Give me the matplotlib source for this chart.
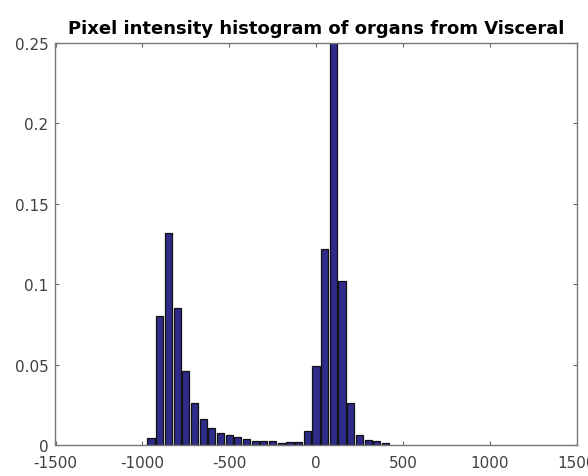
import matplotlib
matplotlib.use("Agg")
import matplotlib.pyplot as plt
import numpy as np

bin_centers = [-950, -900, -850, -800, -750, -700, -650, -600, -550, -500,
               -450, -400, -350, -300, -250, -200, -150, -100, -50,
               0, 50, 100, 150, 200, 250, 300, 350, 400]
frequencies = [0.0045, 0.080, 0.132, 0.085, 0.046, 0.026, 0.016, 0.0105, 0.0075, 0.0062,
               0.0048, 0.0037, 0.0027, 0.0027, 0.0022, 0.0015, 0.0019, 0.0019, 0.0088,
               0.049, 0.122, 0.29, 0.102, 0.026, 0.0062, 0.003, 0.0022, 0.0010]
x_ticks = [-1500, -1000, -500, 0, 500, 1000, 1500]
y_ticks = [0, 0.05, 0.1, 0.15, 0.2, 0.25]
y_tick_labels = ["0", "0.05", "0.1", "0.15", "0.2", "0.25"]
title = "Pixel intensity histogram of organs from Visceral"

fig = plt.figure(figsize=(5.88, 4.77), dpi=100)
ax = fig.add_axes([55.5/588, 31/477, (576.5-55.5)/588, (446-44)/477])

ax.bar(bin_centers, frequencies, width=41, color="#2f2b88",
       edgecolor="#111111", linewidth=0.9, zorder=2)

ax.set_xlim(-1500, 1500)
ax.set_ylim(0, 0.25)
ax.set_xticks(x_ticks)
ax.set_xticklabels([str(t) for t in x_ticks])
ax.set_yticks(y_ticks)
ax.set_yticklabels(y_tick_labels)
ax.tick_params(direction="in", length=3, colors="#666666", labelcolor="#404040",
               labelsize=11, top=True, right=True, width=0.8)
ax.tick_params(axis="x", pad=7)
ax.tick_params(axis="y", pad=5)
for s in ax.spines.values():
    s.set_color("#777777")
    s.set_linewidth(1.0)

ax.set_title(title, fontsize=13, fontweight="bold", pad=7)

fig.savefig("out.png", dpi=100)
